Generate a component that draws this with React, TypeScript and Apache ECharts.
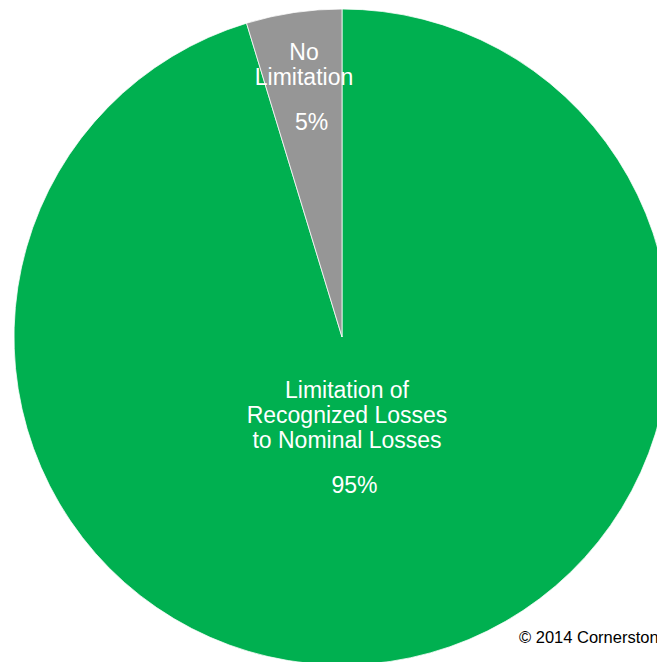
import React, { useEffect, useRef } from "react";
import * as echarts from "echarts";

const categories = ["Limitation of\nRecognized Losses\nto Nominal Losses", "No\nLimitation"];
const values = [95.3, 4.7];
const colors = ["#00B050", "#969696"];
const copyright = "© 2014 Cornerstone Research";

export default function App() {
  const ref = useRef<HTMLDivElement>(null);
  useEffect(() => {
    if (!ref.current) return;
    const chart = echarts.init(ref.current, null, { renderer: "svg" });
    const labelPos = [
      { x: 347, y: 437.5 },
      { x: 304, y: 87 },
    ];
    chart.setOption({
      animation: false,
      textStyle: { fontFamily: "Liberation Sans, Arial, sans-serif" },
      series: [
        {
          type: "pie",
          center: [342, 337],
          radius: 328,
          startAngle: 90,
          clockwise: true,
          silent: true,
          itemStyle: { borderColor: "#ffffff", borderWidth: 0.75 },
          label: {
            show: true,
            position: "inside",
            color: "#ffffff",
            formatter: (p: any) => "{a|" + p.name + "}\n{s|\u00a0}\n{p|" + Math.round(p.percent) + "%}",
            rich: {
              a: { fontSize: 23, lineHeight: 25, color: "#fff", align: "center", fontFamily: "Liberation Sans, Arial, sans-serif" },
              s: { fontSize: 10, lineHeight: 20, color: "#fff" },
              p: { fontSize: 23, lineHeight: 25, color: "#fff", align: "center", padding: [0, 0, 0, 15], fontFamily: "Liberation Sans, Arial, sans-serif" },
            },
          },
          labelLine: { show: false },
          labelLayout: (params: any) => ({
            x: labelPos[params.dataIndex].x,
            y: labelPos[params.dataIndex].y,
            align: "center",
            verticalAlign: "middle",
          }),
          data: categories.map((c, i) => ({ name: c, value: values[i], itemStyle: { color: colors[i] } })),
        },
      ],
      graphic: [
        {
          type: "text",
          left: 519,
          top: 628,
          style: {
            text: copyright,
            fontSize: 16.5,
            fill: "#000000",
            fontFamily: "Liberation Sans, Arial, sans-serif",
          },
        },
      ],
    });
    return () => chart.dispose();
  }, []);
  return (
    <div
      ref={ref}
      style={{ position: "fixed", left: 0, top: 0, width: 657, height: 662, background: "#ffffff" }}
    />
  );
}
